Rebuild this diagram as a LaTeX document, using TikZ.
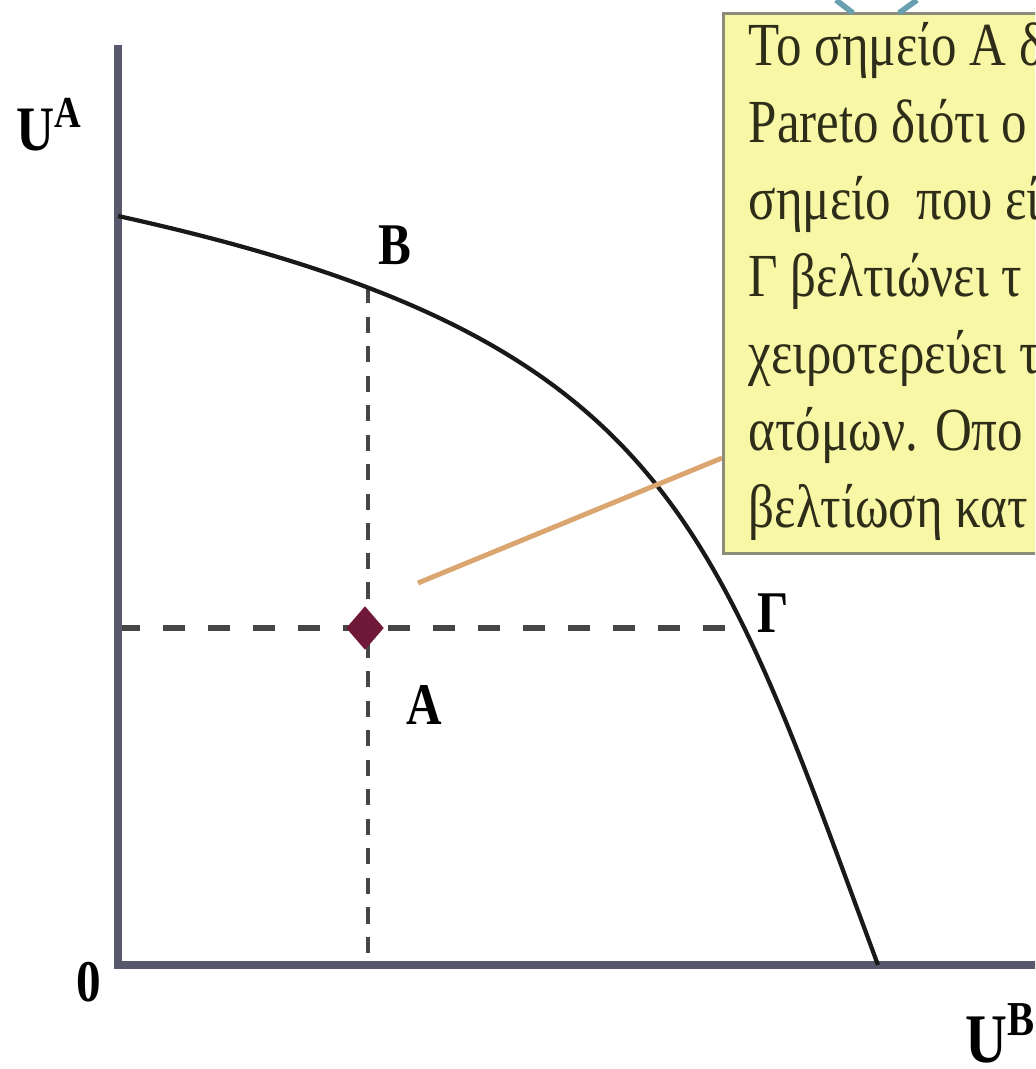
\documentclass[tikz,border=0pt]{standalone}
\usepackage{fontspec}
\setmainfont{Liberation Serif}
\usepackage{graphicx}
\usepackage{tikz}
\usetikzlibrary{shapes.geometric,positioning,calc}
\definecolor{axisgray}{RGB}{88,88,108}
\definecolor{guidegray}{RGB}{70,70,70}
\definecolor{notefill}{RGB}{248,247,165}
\definecolor{noteedge}{RGB}{140,140,120}
\definecolor{pointerorange}{RGB}{218,165,110}
\definecolor{dotmaroon}{RGB}{112,24,56}
\definecolor{quoteteal}{RGB}{105,160,175}
\definecolor{notetext}{RGB}{45,45,25}
\newcommand{\vstretch}[1]{\scalebox{1}[1.2]{#1}}

\tikzset{
  axisline/.style={line width=2.3pt, color=axisgray},
  frontier/.style={line width=1.2pt, color=black!90},
  guideh/.style={line width=1.6pt, color=guidegray, dash pattern=on 6.3pt off 6.5pt},
  guidev/.style={line width=1.1pt, color=guidegray, dash pattern=on 4.6pt off 3.8pt},
  pointer/.style={line width=1.4pt, color=pointerorange},
  notebox/.style={draw=noteedge, line width=0.9pt, fill=notefill, inner sep=0pt},
  notetxt/.style={font=\fontsize{14.5}{16}\selectfont, text=notetext, inner sep=0pt},
  ptlbl/.style={font=\fontsize{14}{14}\selectfont\bfseries, inner sep=0pt},
  axislbl/.style={font=\fontsize{15}{15}\selectfont\bfseries, inner sep=0pt},
}

\begin{document}
\begin{tikzpicture}[x=0.01cm,y=-0.01cm]
        \useasboundingbox (0,0) rectangle (1035,1069);
        \clip (0,0) rectangle (1035,1069);

        \coordinate (ytop) at (118,45);
        \coordinate (O) at (118,965);
        \coordinate (xend) at (1050,965);
        \coordinate (ptB) at (368,287);
        \coordinate (footB) at (368,965);
        \coordinate (ptG) at (744,628);
        \coordinate (leftG) at (118,628);
        \coordinate (tail) at (418,583);
        \coordinate (tip) at (722,458);

        \draw[guidev] (ptB) -- (footB);
        \draw[guideh] (leftG) -- (ptG);
        \draw[axisline] (ytop) -- (O) -- (xend);
        \draw[frontier] (118,216) .. controls (668,337) and (711,515) .. (878,965);
        \draw[pointer] (tail) -- (tip);
        \node[diamond, fill=dotmaroon, minimum width=0.38cm, minimum height=0.44cm, inner sep=0pt] (ptA) at (365,628) {};

        \node[notebox, anchor=north west, minimum width=4cm, minimum height=5.4cm] (note) at (722,12) {};
        \foreach \ln [count=\i] in {Το σημείο Α δ, Pareto διότι ο, σημείο\ \ που εί, Γ βελτιώνει τ, χειροτερεύει τ, ατόμων. Οπο, βελτίωση κατ}
          \node[notetxt, anchor=base west] (line\i) at (748,{65+77*(\i-1)}) {\vstretch{\ln}};

        \node[ptlbl] (lblB) at (395,245) {\vstretch{Β}};
        \node[ptlbl] (lblA) at (424,705) {\vstretch{Α}};
        \node[ptlbl] (lblG) at (773,613) {\vstretch{Γ}};
        \node[ptlbl] (lblO) at (89,982) {\vstretch{0}};
        \node[axislbl, anchor=base west] (lblUA) at (16,150) {\vstretch{U\textsuperscript{A}}};
        \node[axislbl, font=\fontsize{16.5}{16.5}\selectfont\bfseries, anchor=base west] (lblUB) at (965,1062) {\vstretch{U\textsuperscript{B}}};

        \draw[quoteteal, line width=1.6pt] (836,0) -- (853,13);
        \draw[quoteteal, line width=1.6pt] (917,0) -- (899,13);
      \end{tikzpicture}
\end{document}
